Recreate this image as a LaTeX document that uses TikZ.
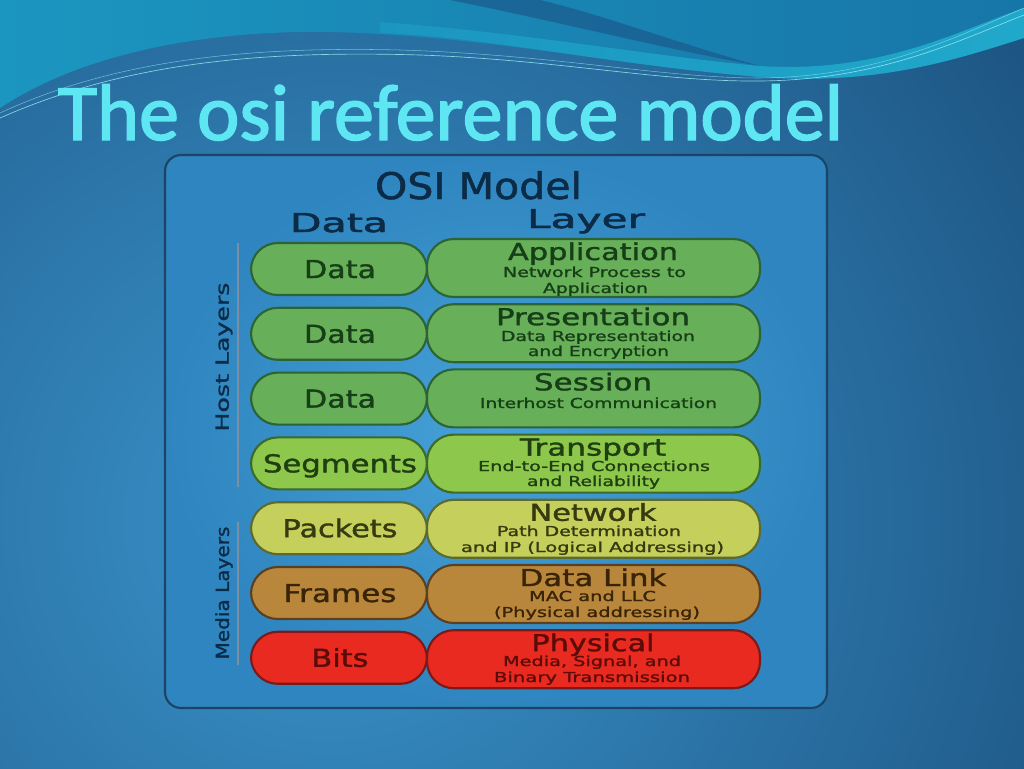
\documentclass[tikz,border=0pt]{standalone}
\usepackage{fontspec}
\setmainfont{DejaVu Sans}
\newfontfamily\djm[FakeBold=1.3]{DejaVu Sans}
\newfontfamily\djh[FakeBold=1.8]{DejaVu Sans}
\newfontfamily\titlefont[FakeBold=1.8]{Carlito}
\newlength\fwl
\newcommand{\fw}[2]{\setlength\fwl{#1pt}\setlength\fwl{0.75\fwl}\resizebox{\fwl}{\height}{#2}}
\definecolor{bgA}{HTML}{3A94CC}
\definecolor{bgB}{HTML}{15446F}
\definecolor{topL}{HTML}{1B96C0}
\definecolor{topR}{HTML}{1776A8}
\definecolor{bandC}{HTML}{20A8CA}
\definecolor{stripeC}{HTML}{1A5C8E}
\definecolor{titleC}{HTML}{5EE6F2}
\definecolor{panelI}{HTML}{46A2D8}
\definecolor{panelO}{HTML}{2F85BF}
\definecolor{panelB}{HTML}{1B4466}
\definecolor{navy}{HTML}{0B2B46}
\definecolor{lineG}{HTML}{7C8FA2}
\definecolor{gF}{HTML}{68AF59}\definecolor{gB}{HTML}{2C6436}\definecolor{gT}{HTML}{173F17}
\definecolor{lF}{HTML}{8DC74B}\definecolor{lB}{HTML}{3B6A2A}\definecolor{lT}{HTML}{203F10}
\definecolor{yF}{HTML}{C5CF5C}\definecolor{yB}{HTML}{5C6A30}\definecolor{yT}{HTML}{353A10}
\definecolor{bF}{HTML}{B8873C}\definecolor{bB}{HTML}{5A4020}\definecolor{bT}{HTML}{3A2408}
\definecolor{rF}{HTML}{E82A20}\definecolor{rB}{HTML}{7A1A1A}\definecolor{rT}{HTML}{5A0C08}
\tikzset{
  databox/.style={draw=#1B, fill=#1F, line width=1.6pt, rounded corners=20pt},
  layerbox/.style={draw=#1B, fill=#1F, line width=1.6pt, rounded corners=20pt},
  txt/.style={inner sep=0pt, anchor=base},
  lbl/.style={txt, font=\djm\fontsize{18.5}{20}\selectfont},
  ttl/.style={txt, font=\djm\fontsize{17.5}{19}\selectfont},
  sub/.style={txt, font=\djm\fontsize{10.3}{12}\selectfont},
  side/.style={inner sep=0pt, rotate=90, text=navy, font=\djm\fontsize{13.5}{15}\selectfont},
  vline/.style={draw=lineG, line width=2.2pt}
}
\begin{document}
\begin{tikzpicture}[x=0.75pt,y=-0.75pt]
\useasboundingbox (0,0) rectangle (1024,768);
\begin{scope}
\clip (0,0) rectangle (1024,768);
% background
\shade[inner color=bgA, outer color=bgB] (-740,-550) rectangle (1400,1590);
% top region
\shade[left color=topL, right color=topR] (0,0) -- (0,108) .. controls (80,55) and (200,30) .. (330,32)
  .. controls (480,35) and (620,66) .. (760,77) .. controls (880,86) and (960,58) .. (1024,38) -- (1024,0) -- cycle;
% light band
\shade[left color=topL, right color=bandC] (380,22) .. controls (520,32) and (650,56) .. (760,66)
  .. controls (880,74) and (960,30) .. (1024,8) -- (1024,38) .. controls (960,58) and (880,86) .. (760,77)
  .. controls (620,66) and (480,36) .. (380,33) -- cycle;
% dark stripe
\fill[stripeC, opacity=0.75] (450,0) .. controls (560,22) and (660,48) .. (760,66)
  .. controls (680,44) and (600,14) .. (540,0) -- cycle;
% thin lines
\draw[titleC!60!white, line width=0.5pt, opacity=0.8] (0,118) .. controls (120,65) and (250,50) .. (420,55)
  .. controls (560,60) and (660,82) .. (760,81) .. controls (880,80) and (960,40) .. (1024,15);
\draw[titleC!60!white, line width=0.4pt, opacity=0.6] (0,113) .. controls (110,62) and (240,46) .. (400,50)
  .. controls (560,55) and (660,78) .. (760,78) .. controls (880,77) and (960,35) .. (1024,8);
\end{scope}
% title
\node[txt, text=titleC, font=\titlefont\fontsize{60}{66}\selectfont] (title) at (450.5,140) {\fw{785}{The osi reference model}};
% panel
\shade[draw=panelB, inner color=panelI, outer color=panelO, line width=1.6pt, rounded corners=12pt] (165,155) rectangle (827,708);
\node[txt, text=navy, font=\djm\fontsize{27.5}{30}\selectfont] (osi) at (478.5,199) {\fw{207}{OSI Model}};
\node[txt, text=navy, font=\djh\fontsize{19.5}{21}\selectfont] (hdata) at (339,232) {\fw{98}{Data}};
\node[txt, text=navy, font=\djh\fontsize{19.5}{21}\selectfont] (hlayer) at (586,228) {\fw{118}{Layer}};
% side lines and labels
\coordinate (h1) at (238,243); \coordinate (h2) at (238,487);
\coordinate (m1) at (238,522); \coordinate (m2) at (238,665);
\draw[vline] (h1) -- (h2);
\draw[vline] (m1) -- (m2);
\node[side] (host) at (224,357) {\fw{149}{Host Layers}};
\node[side] (media) at (224,593) {\fw{133}{Media Layers}};
% rows
\foreach \i/\c/\ld/\lw/\rt/\rw in {
  1/g/Data/72/Application/170,
  2/g/Data/72/Presentation/194,
  3/g/Data/72/Session/118,
  4/l/Segments/154/Transport/146,
  5/y/Packets/115/Network/127,
  6/b/Frames/113/Data Link/147,
  7/r/Bits/57/Physical/123}{
  \pgfmathsetmacro{\ltop}{243+(\i-1)*64.8}
  \pgfmathsetmacro{\rtop}{239+(\i-1)*65.2}
  \draw[databox=\c] (251,\ltop) rectangle (427,\ltop+52);
  \node[lbl, text=\c T] (d\i) at (340,\ltop+35) {\fw{\lw}{\ld}};
  \draw[layerbox=\c] (427,\rtop) rectangle (760,\rtop+58);
  \node[ttl, text=\c T] (t\i) at (593,\rtop+21) {\fw{\rw}{\rt}};
}
% subtitles
\node[sub, text=gT] (s1a) at (594.5,277) {\fw{183}{Network Process to}};
\node[sub, text=gT] (s1b) at (595.5,293) {\fw{105}{Application}};
\node[sub, text=gT] (s2a) at (598,341) {\fw{194}{Data Representation}};
\node[sub, text=gT] (s2b) at (598.5,356) {\fw{141}{and Encryption}};
\node[sub, text=gT] (s3a) at (598.5,408) {\fw{237}{Interhost Communication}};
\node[sub, text=lT] (s4a) at (594,471) {\fw{232}{End-to-End Connections}};
\node[sub, text=lT] (s4b) at (593.5,486) {\fw{133}{and Reliability}};
\node[sub, text=yT] (s5a) at (589,536) {\fw{184}{Path Determination}};
\node[sub, text=yT] (s5b) at (592.5,552) {\fw{263}{and IP (Logical Addressing)}};
\node[sub, text=bT] (s6a) at (592.5,601) {\fw{127}{MAC and LLC}};
\node[sub, text=bT] (s6b) at (597,617) {\fw{206}{(Physical addressing)}};
\node[sub, text=rT] (s7a) at (592,666) {\fw{178}{Media, Signal, and}};
\node[sub, text=rT] (s7b) at (592,682) {\fw{196}{Binary Transmission}};
\end{tikzpicture}
\end{document}
